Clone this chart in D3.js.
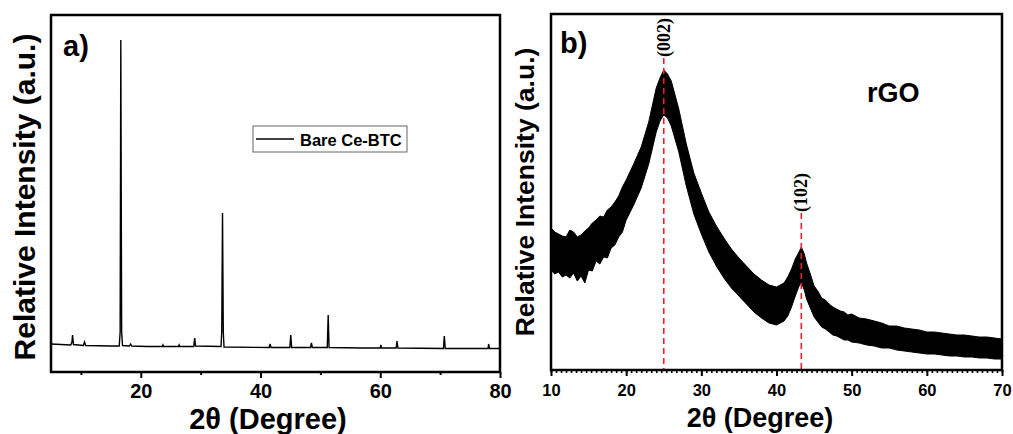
<!DOCTYPE html>
<html>
<head>
  <script src="https://d3js.org/d3.v7.min.js"></script>
  <style>
    body { margin: 0; background: #fff; }
    text { font-family: "Liberation Sans", Arial, sans-serif; font-weight: bold; fill: #000; }
    .hkl { font-family: "Liberation Serif", "Times New Roman", serif; font-weight: bold; }
  </style>
</head>
<body>
  <svg id="chart" width="1013" height="434"></svg>
  <script>
    // ---- panel a: Bare Ce-BTC pattern ----
    const aTheta = [5, 8.3, 8.5, 8.6, 8.75, 10.4, 10.6, 10.8, 15, 16.4, 16.55, 16.66, 16.8, 16.95,
      18.1, 18.3, 18.5, 21, 23.6, 23.7, 23.8, 26.3, 26.4, 26.5, 28.85, 29.0, 29.15,
      33.4, 33.52, 33.65, 33.78, 33.9, 41.45, 41.6, 41.75, 44.9, 45.05, 45.2,
      48.35, 48.5, 48.65, 51.15, 51.3, 51.45, 57, 60, 60.1, 60.2, 62.65, 62.8, 62.95,
      70.55, 70.7, 70.85, 78, 78.1, 78.25, 80];
    const aInt = [28, 27, 30, 37, 27.5, 26.5, 30, 26.5, 26, 26, 40, 332, 40, 26.5,
      26, 28, 26, 25.5, 25.5, 27, 25.5, 25.5, 27, 25.5, 25.5, 34, 26,
      25.5, 40, 159, 40, 25, 24.5, 28, 24.5, 24.5, 37, 24.5,
      24.5, 29, 24.5, 24.5, 57, 24.5, 24, 24, 27, 24, 24, 31, 24,
      23.5, 36, 23.5, 23.5, 28, 23.5, 23.5];
    const aTicks = [20, 40, 60, 80];
    const aMinor = [10, 30, 50, 70];

    // ---- panel b: rGO, noisy band given as lower / upper envelope ----
    const bTheta = [10, 10.5, 11, 11.5, 12, 12.5, 13, 13.5, 14, 14.5, 15, 15.5, 16, 16.5, 17, 17.5,
      18, 18.5, 19, 19.5, 20, 21, 22, 23, 24, 24.5, 25, 25.5, 26, 27, 28, 29, 30, 31, 32, 33,
      34, 35, 36, 37, 38, 39, 40, 41, 41.5, 42, 42.5, 43, 43.3, 43.7, 44, 44.5, 45, 45.5, 46,
      46.5, 47, 47.5, 48, 48.5, 49, 49.5, 50, 51, 52, 53, 54, 55, 56, 57, 58, 59, 60, 61, 62,
      63, 64, 65, 66, 67, 68, 69, 70];
    const bLow = [100, 96, 98, 93, 95, 92, 97, 89, 94, 87, 100, 99, 109, 106, 113, 112,
      122, 125, 133, 138, 150, 165, 182, 206, 238, 249, 255, 252, 244, 218, 184, 156, 136, 118, 104, 92,
      82, 74, 66, 58, 52, 47, 45, 49, 54, 63, 74, 84, 87, 80, 71, 62, 53, 48, 43,
      41, 38, 35, 34, 32, 30, 30, 28, 27, 25, 24, 22, 22, 20, 19, 18, 17, 16, 16, 15,
      14, 14, 13, 13, 12, 12, 11, 11];
    const bHigh = [142, 138, 136, 134, 133, 140, 138, 133, 135, 139, 142, 147, 150, 154, 153, 160,
      163, 168, 174, 183, 190, 206, 223, 248, 282, 292, 300, 296, 289, 261, 226, 197, 177, 158, 144, 132,
      121, 112, 104, 96, 90, 85, 83, 87, 93, 101, 111, 118, 123, 116, 107, 96, 84, 79, 72,
      70, 66, 63, 61, 59, 58, 55, 56, 52, 51, 49, 47, 44, 44, 42, 41, 40, 38, 38, 37,
      36, 35, 35, 34, 33, 33, 32, 31];
    const bPeaks = [{ pos: 25, label: "(002)", top: 58 }, { pos: 43.3, label: "(102)", top: 213 }];
    const bTicks = [10, 20, 30, 40, 50, 60, 70];

    const svg = d3.select("#chart");

    // scales
    const xA = d3.scaleLinear().domain([5, 80]).range([51, 500]);
    const yA = d3.scaleLinear().domain([0, 357]).range([372, 15]);
    const xB = d3.scaleLinear().domain([10, 70]).range([551, 1002]);
    const yB = d3.scaleLinear().domain([0, 356]).range([370, 14]);

    // ---------------- panel a ----------------
    const gA = svg.append("g");
    const lineA = d3.line().x((d, i) => xA(aTheta[i])).y((d, i) => yA(aInt[i]));
    gA.append("path")
      .datum(aTheta)
      .attr("d", lineA)
      .attr("fill", "none")
      .attr("stroke", "#000")
      .attr("stroke-width", 1.4);

    gA.append("g")
      .attr("transform", "translate(0,372)")
      .call(d3.axisBottom(xA).tickValues(aTicks).tickSize(6).tickFormat(d3.format("d")))
      .call(g => g.select(".domain").remove())
      .call(g => g.selectAll("line").attr("stroke-width", 2))
      .call(g => g.selectAll("text").attr("font-size", 20).attr("dy", "0.85em"));
    gA.append("g")
      .attr("transform", "translate(0,372)")
      .call(d3.axisBottom(xA).tickValues(aMinor).tickSize(3).tickFormat(""))
      .call(g => g.select(".domain").remove())
      .call(g => g.selectAll("line").attr("stroke-width", 2));

    gA.append("rect")
      .attr("x", xA.range()[0]).attr("y", yA.range()[1])
      .attr("width", xA.range()[1] - xA.range()[0])
      .attr("height", yA.range()[0] - yA.range()[1])
      .attr("fill", "none").attr("stroke", "#000").attr("stroke-width", 2.5);

    gA.append("text").attr("x", 63).attr("y", 56).attr("font-size", 29).text("a)");

    // legend
    const leg = gA.append("g").attr("transform", "translate(253,126)");
    leg.append("rect").attr("width", 154).attr("height", 26)
      .attr("fill", "#fff").attr("stroke", "#666").attr("stroke-width", 1);
    leg.append("line").attr("x1", 3).attr("x2", 41).attr("y1", 13).attr("y2", 13)
      .attr("stroke", "#000").attr("stroke-width", 1.4);
    leg.append("text").attr("x", 47).attr("y", 20).attr("font-size", 16.5).text("Bare Ce-BTC");

    gA.append("text")
      .attr("transform", "translate(35,197) rotate(-90)")
      .attr("text-anchor", "middle").attr("font-size", 30)
      .text("Relative Intensity (a.u.)");
    gA.append("text")
      .attr("x", 268).attr("y", 429)
      .attr("text-anchor", "middle").attr("font-size", 29)
      .text("2θ (Degree)");

    // ---------------- panel b ----------------
    const gB = svg.append("g");
    const areaB = d3.area()
      .x((d, i) => xB(bTheta[i]))
      .y0((d, i) => yB(bLow[i]))
      .y1((d, i) => yB(bHigh[i]));
    gB.append("path")
      .datum(bTheta)
      .attr("d", areaB)
      .attr("fill", "#000")
      .attr("stroke", "#000")
      .attr("stroke-width", 1);

    // red dashed peak markers
    gB.selectAll(".peak")
      .data(bPeaks)
      .enter()
      .append("line")
      .attr("class", "peak")
      .attr("x1", d => xB(d.pos)).attr("x2", d => xB(d.pos))
      .attr("y1", d => d.top).attr("y2", yB.range()[0])
      .attr("stroke", "#e8202a").attr("stroke-width", 1.6)
      .attr("stroke-dasharray", "6,4");
    gB.selectAll(".hkl")
      .data(bPeaks)
      .enter()
      .append("text")
      .attr("class", "hkl")
      .attr("transform", d => `translate(${xB(d.pos) + 6},${d.top - 1}) rotate(-90)`)
      .attr("font-size", 18)
      .text(d => d.label);

    gB.append("g")
      .attr("transform", "translate(0,370)")
      .call(d3.axisBottom(xB).tickValues(d3.range(10, 70.01, 10 / 15)).tickSize(3).tickFormat(""))
      .call(g => g.select(".domain").remove())
      .call(g => g.selectAll("line").attr("stroke-width", 1.6));
    gB.append("g")
      .attr("transform", "translate(0,370)")
      .call(d3.axisBottom(xB).tickValues(bTicks).tickSize(6).tickFormat(d3.format("d")))
      .call(g => g.select(".domain").remove())
      .call(g => g.selectAll("line").attr("stroke-width", 2))
      .call(g => g.selectAll("text").attr("font-size", 16.5).attr("dy", "1.0em"));

    gB.append("rect")
      .attr("x", xB.range()[0]).attr("y", yB.range()[1])
      .attr("width", xB.range()[1] - xB.range()[0])
      .attr("height", yB.range()[0] - yB.range()[1])
      .attr("fill", "none").attr("stroke", "#000").attr("stroke-width", 2.5);

    gB.append("text").attr("x", 560).attr("y", 53).attr("font-size", 29).text("b)");
    gB.append("text").attr("x", 867).attr("y", 102).attr("font-size", 27).text("rGO");

    gB.append("text")
      .attr("transform", "translate(534,192) rotate(-90)")
      .attr("text-anchor", "middle").attr("font-size", 26.5)
      .text("Relative Intensity (a.u.)");
    gB.append("text")
      .attr("x", 760).attr("y", 427)
      .attr("text-anchor", "middle").attr("font-size", 27)
      .text("2θ (Degree)");
  </script>
</body>
</html>
